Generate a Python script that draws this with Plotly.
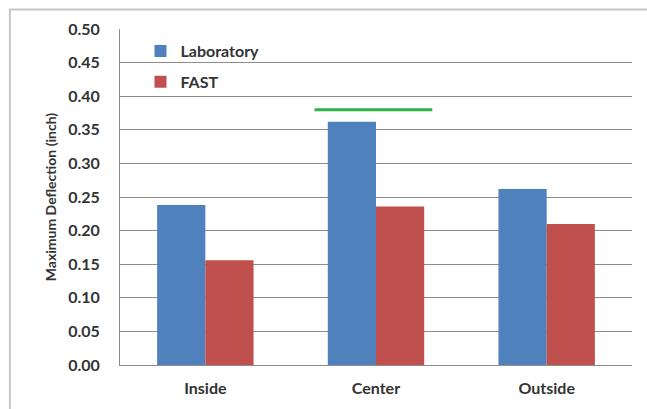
import plotly.graph_objects as go

categories = ["Inside", "Center", "Outside"]
laboratory = [0.238, 0.362, 0.262]
fast = [0.156, 0.236, 0.210]
threshold_value = 0.38
threshold_span = [0.64, 1.33]
y_ticks = [0.00, 0.05, 0.10, 0.15, 0.20, 0.25, 0.30, 0.35, 0.40, 0.45, 0.50]

font_family = "Lato, 'Open Sans', sans-serif"
text_color = "#333333"

fig = go.Figure()
fig.add_trace(go.Bar(x=categories, y=laboratory, name="Laboratory", legendgroup="a",
                     marker=dict(color="#4F81BD", line=dict(width=0))))
fig.add_trace(go.Bar(x=categories, y=fast, name="FAST", legendgroup="b",
                     marker=dict(color="#C0504D", line=dict(width=0))))

fig.add_shape(type="line", xref="x", yref="y",
              x0=threshold_span[0], x1=threshold_span[1],
              y0=threshold_value, y1=threshold_value,
              line=dict(color="#2DB34A", width=3))

# outer chart border
fig.add_shape(type="rect", xref="paper", yref="paper",
              x0=-0.215, x1=1.06, y0=-0.2, y1=1.058,
              line=dict(color="#C8C8C8", width=2), layer="below")

fig.update_layout(
    width=647, height=409,
    margin=dict(l=120, r=15, t=29, b=44),
    paper_bgcolor="white", plot_bgcolor="white",
    barmode="group", bargap=0.435, bargroupgap=0,
    font=dict(family=font_family, color=text_color, size=13),
    showlegend=True,
    legend=dict(x=0.04, y=0.985, xanchor="left", yanchor="top",
                bgcolor="rgba(0,0,0,0)",
                font=dict(size=16, color=text_color, weight="bold"),
                traceorder="grouped", tracegroupgap=7, itemwidth=30),
    xaxis=dict(showgrid=False, showline=True, linecolor="#8C8C8C", linewidth=1,
               ticks="outside", tickcolor="rgba(0,0,0,0)", ticklen=9,
               tickfont=dict(size=16, color=text_color, weight="bold"),
               range=[-0.5, 2.5]),
    yaxis=dict(range=[0, 0.5], tickvals=y_ticks,
               ticktext=[f"{v:.2f}" for v in y_ticks],
               showgrid=True, gridcolor="#8C8C8C", gridwidth=1,
               showline=True, linecolor="#8C8C8C", linewidth=1,
               ticks="outside", tickcolor="rgba(0,0,0,0)", ticklen=16,
               tickfont=dict(size=16, color=text_color, weight="bold"),
               title=dict(text="Maximum Deflection (inch)",
                          font=dict(size=14, color=text_color, weight="bold"),
                          standoff=8)),
)

fig.write_html("out.html", config={"displayModeBar": False},
               post_script="document.body.style.margin='0';document.body.style.overflow='hidden';")
